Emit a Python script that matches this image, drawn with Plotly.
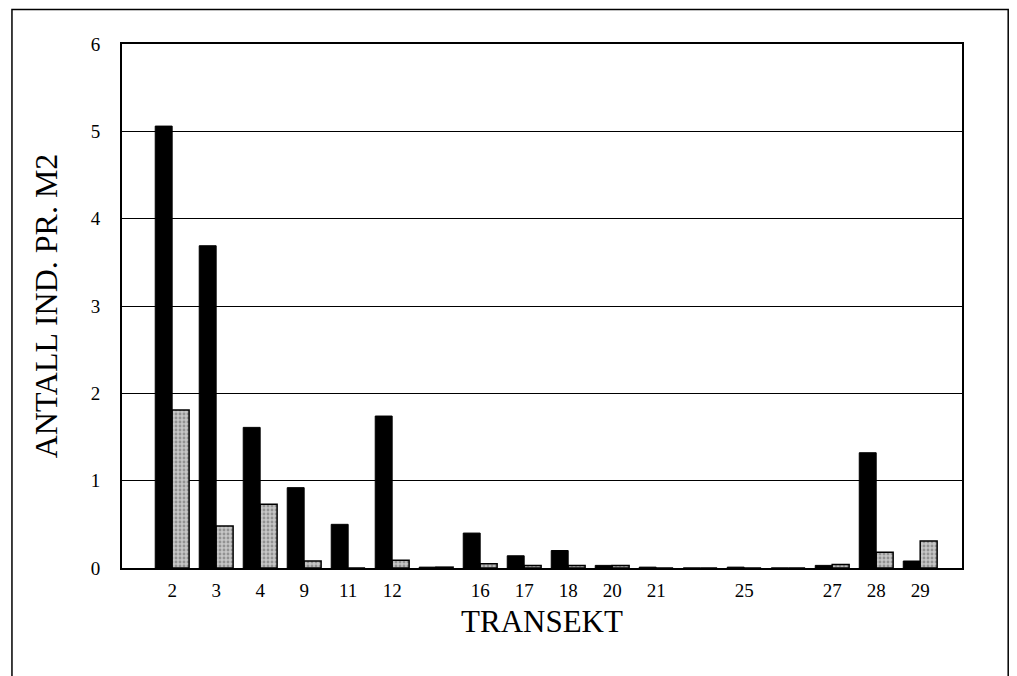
import plotly.graph_objects as go

categories = ["2", "3", "4", "9", "11", "12", " ", "16", "17", "18", "20", "21",
              "  ", "25", "   ", "27", "28", "29"]
series_black = [5.06, 3.69, 1.61, 0.92, 0.50, 1.74, 0.01, 0.40, 0.14, 0.20, 0.03,
                0.01, 0.0, 0.01, 0.0, 0.03, 1.32, 0.08]
series_grey = [1.81, 0.48, 0.73, 0.08, 0.0, 0.09, 0.01, 0.05, 0.03, 0.03, 0.03,
               0.0, 0.0, 0.0, 0.0, 0.04, 0.18, 0.31]
y_ticks = [0, 1, 2, 3, 4, 5, 6]

font_family = "Liberation Serif, Times New Roman, serif"

fig = go.Figure()
fig.add_trace(go.Bar(x=categories, y=series_black, name="A",
                     marker=dict(color="#000000", line=dict(color="#000000", width=1))))
fig.add_trace(go.Bar(x=categories, y=series_grey, name="B",
                     marker=dict(color="#bdbdbd", line=dict(color="#000000", width=1.5),
                                 pattern=dict(shape=".", fgcolor="#5e5e5e", bgcolor="#c6c6c6",
                                              size=4, solidity=0.4))))

fig.update_layout(
    width=1017, height=676,
    margin=dict(l=114, r=63, t=36, b=116),
    paper_bgcolor="white", plot_bgcolor="white",
    barmode="group", bargap=0.23, bargroupgap=0,
    showlegend=False,
    font=dict(family=font_family, color="black"),
    xaxis=dict(
        type="category", range=[-1.14, 17.95],
        showgrid=False, showline=True, linecolor="black", linewidth=2, mirror=True,
        ticks="", tickfont=dict(size=19, family=font_family),
        ticklabelstandoff=4,
        title=dict(text="TRANSEKT", font=dict(size=31, family=font_family), standoff=11),
    ),
    yaxis=dict(
        range=[0, 6], tickvals=y_ticks,
        showgrid=True, gridcolor="black", gridwidth=1,
        showline=True, linecolor="black", linewidth=2, mirror=True,
        ticks="", tickfont=dict(size=19, family=font_family),
        ticklabelstandoff=16,
        title=dict(text="ANTALL IND. PR. M2", font=dict(size=32, family=font_family), standoff=24),
        zeroline=False,
    ),
)

fig.add_shape(type="rect", xref="paper", yref="paper",
              x0=-0.131, x1=1.055, y0=-0.3, y1=1.066,
              line=dict(color="black", width=1.5), fillcolor="rgba(0,0,0,0)", layer="below")

fig.write_html("out.html")
